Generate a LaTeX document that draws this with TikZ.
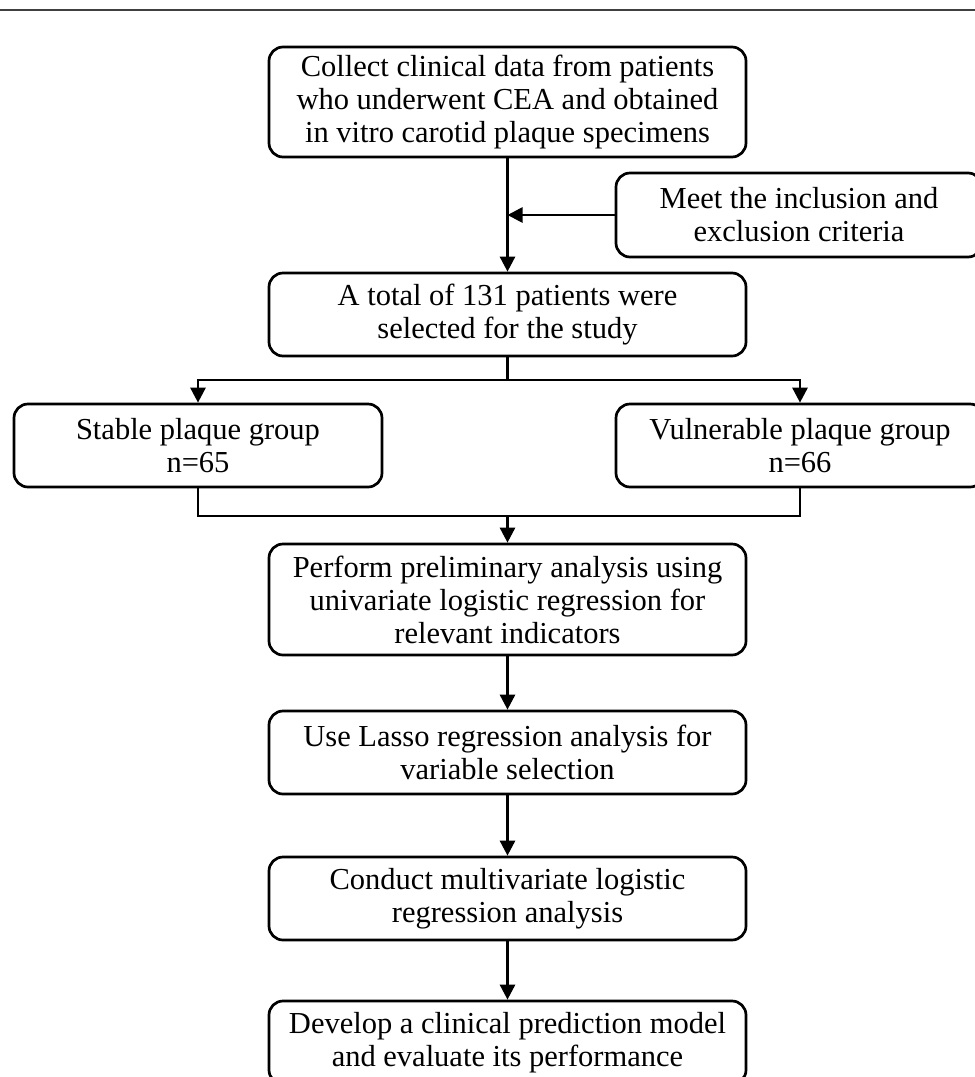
\documentclass[tikz,border=0pt]{standalone}
\usepackage{fontspec}
\setmainfont{Liberation Serif}
\usetikzlibrary{arrows.meta}
\tikzset{
  box/.style={draw=black, line width=2.7pt, rounded corners=14pt, fill=white,
    align=center, inner sep=0pt, font=\fontsize{30.5}{33}\selectfont},
  conn/.style={draw=black, line width=2.7pt},
  arr/.style={conn, -{Triangle[length=15pt,width=15pt]}},
}
\begin{document}
\begin{tikzpicture}[x=1pt,y=-1pt]
\useasboundingbox (0,0) rectangle (975,1077);
\clip (0,0) rectangle (975,1077);
\fill[white] (0,0) rectangle (975,1077);
\draw[color=black!75, line width=1.5pt] (0,10) -- (975,10);

\node[box, minimum width=477pt, minimum height=110pt] (b1) at (507.5,102)
  {Collect clinical data from patients\\who underwent CEA and obtained\\in vitro carotid plaque specimens};
\node[box, minimum width=366pt, minimum height=84pt] (crit) at (799,215)
  {Meet the inclusion and\\exclusion criteria};
\node[box, minimum width=477pt, minimum height=83pt] (b2) at (507.5,314.5)
  {A total of 131 patients were\\selected for the study};
\node[box, minimum width=368pt, minimum height=83pt] (stable) at (198,445.5)
  {Stable plaque group\\n=65};
\node[box, minimum width=368pt, minimum height=83pt] (vuln) at (800,445.5)
  {Vulnerable plaque group\\n=66};
\node[box, minimum width=477pt, minimum height=111pt] (b3) at (507.5,599.5)
  {Perform preliminary analysis using\\univariate logistic regression for\\relevant indicators};
\node[box, minimum width=477pt, minimum height=83pt] (b4) at (507.5,752.5)
  {Use Lasso regression analysis for\\variable selection};
\node[box, minimum width=477pt, minimum height=83pt] (b5) at (507.5,898.5)
  {Conduct multivariate logistic\\regression analysis};
\node[box, minimum width=477pt, minimum height=83pt] (b6) at (507.5,1042.5)
  {Develop a clinical prediction model\\and evaluate its performance};

\coordinate (split) at (507.5,380);
\coordinate (merge) at (507.5,516);

\draw[arr] (b1.south) -- (b2.north);
\draw[arr] (crit.west) -- (crit.west -| b1.south);
\draw[conn] (b2.south) -- (split);
\draw[arr] (split) -| (stable.north);
\draw[arr] (split) -| (vuln.north);
\draw[conn] (stable.south) |- (merge) -| (vuln.south);
\draw[arr] (merge) -- (b3.north);
\draw[arr] (b3.south) -- (b4.north);
\draw[arr] (b4.south) -- (b5.north);
\draw[arr] (b5.south) -- (b6.north);
\end{tikzpicture}
\end{document}
